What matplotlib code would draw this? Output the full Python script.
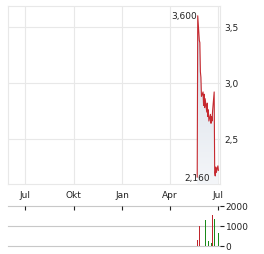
import numpy as np
import pandas as pd
import matplotlib
matplotlib.use('Agg')
import matplotlib.pyplot as plt
import matplotlib.dates as mdates
from matplotlib.colors import LinearSegmentedColormap

# Kursdaten (Schlusskurse)
price_dates = ['2025-05-22', '2025-05-23', '2025-05-26', '2025-05-27', '2025-05-28',
               '2025-05-29', '2025-05-30', '2025-06-02', '2025-06-03', '2025-06-04',
               '2025-06-05', '2025-06-06', '2025-06-09', '2025-06-10', '2025-06-11',
               '2025-06-12', '2025-06-13', '2025-06-16', '2025-06-17', '2025-06-18',
               '2025-06-19', '2025-06-20', '2025-06-23', '2025-06-24', '2025-06-25',
               '2025-06-26', '2025-06-27', '2025-06-30', '2025-07-01']
price_values = [2.16, 3.60, 3.38, 3.36, 3.10,
                3.05, 2.88, 2.92, 2.80, 2.90,
                2.78, 2.86, 2.74, 2.82, 2.70,
                2.76, 2.66, 2.72, 2.64, 2.70,
                2.66, 2.75, 2.92, 2.20, 2.17,
                2.25, 2.20, 2.26, 2.22]

# Umsatz
vol_dates = ['2025-05-23', '2025-05-26', '2025-06-02', '2025-06-06', '2025-06-13',
             '2025-06-18', '2025-06-20', '2025-06-23', '2025-07-01']
vol_values = [280, 980, 1000, 1280, 270, 130, 1570, 1330, 650]
vol_colors = ['#c0262d', '#c0262d', '#1a8a1a', '#1a8a1a', '#1a8a1a',
              '#1a8a1a', '#c0262d', '#1a8a1a', '#1a8a1a']

month_ticks = ['2024-07-01', '2024-10-01', '2025-01-01', '2025-04-01', '2025-07-01']
month_labels = ['Jul', 'Okt', 'Jan', 'Apr', 'Jul']

price_ticks = [2.5, 3.0, 3.5]
price_labels = ['2,5', '3,0', '3,5']
vol_ticks = [0, 1000, 2000]

hi_label = '3,600'
lo_label = '2,160'

pd_ = pd.to_datetime(price_dates)
vd = pd.to_datetime(vol_dates)
mt = pd.to_datetime(month_ticks)
xmin = pd.Timestamp('2024-05-30')
xmax = pd.Timestamp('2025-07-04')
ymin, ymax = 2.098, 3.6875

plt.rcParams['font.family'] = 'DejaVu Sans'
txt = '#222222'
grid_c = '#e8e8e8'

fig = plt.figure(figsize=(2.64, 2.55), dpi=100)

# Kurs
ax = fig.add_axes([8/264, 1 - 185/255, 212/264, 178/255])
fill = ax.fill_between(pd_, price_values, ymin, color='none', lw=0)
# Farbverlauf unter der Linie
cmap = LinearSegmentedColormap.from_list('fade', ['#f4f6f9', '#d3dbe5'])
grad = ax.imshow(np.linspace(0, 1, 100).reshape(-1, 1), cmap=cmap, aspect='auto',
                 origin='lower',
                 extent=[mdates.date2num(pd_[0]), mdates.date2num(pd_[-1]), ymin, max(price_values)],
                 zorder=1)
grad.set_clip_path(fill.get_paths()[0], transform=ax.transData)
ax.plot(pd_, price_values, color='#c62a30', lw=0.8, zorder=3)
ax.set_xlim(xmin, xmax)
ax.set_ylim(ymin, ymax)
ax.set_xticks(mt)
ax.set_xticklabels(month_labels)
ax.set_yticks(price_ticks)
ax.set_yticklabels(price_labels)
ax.yaxis.tick_right()
ax.tick_params(axis='both', length=0, labelsize=6.5, colors=txt)
ax.tick_params(axis='y', pad=3)
ax.tick_params(axis='x', pad=4)
ax.grid(True, color=grid_c, lw=0.8)
ax.set_axisbelow(True)
for s in ax.spines.values():
    s.set_color(grid_c)
    s.set_linewidth(0.8)

i_hi = int(np.argmax(price_values))
i_lo = int(np.argmin(price_values[:3]))
ax.text(pd_[i_hi] - pd.Timedelta(days=2), price_values[i_hi], hi_label,
        ha='right', va='center', fontsize=6.5, color=txt, zorder=4)
ax.text(pd_[i_lo], price_values[i_lo], lo_label,
        ha='center', va='center', fontsize=6.5, color=txt, zorder=2)

# Umsatz
axv = fig.add_axes([8/264, 1 - 247/255, 212/264, 40/255])
for t in vol_ticks:
    axv.axhline(t, color='#c8c8c8', lw=0.8, clip_on=False, zorder=0)
axv.bar(vd, vol_values, width=1.6, color=vol_colors, zorder=2)
axv.set_xlim(xmin, xmax)
axv.set_ylim(0, 2000)
axv.set_yticks(vol_ticks)
axv.yaxis.tick_right()
axv.tick_params(axis='y', length=3, width=0.8, labelsize=6.5, colors=txt, pad=1)
axv.xaxis.tick_top()
axv.set_xticks(mt)
axv.tick_params(axis='x', direction='in', length=3, width=0.8, labeltop=False, color=txt)
for s in axv.spines.values():
    s.set_visible(False)

fig.savefig('out.png', dpi=100)
